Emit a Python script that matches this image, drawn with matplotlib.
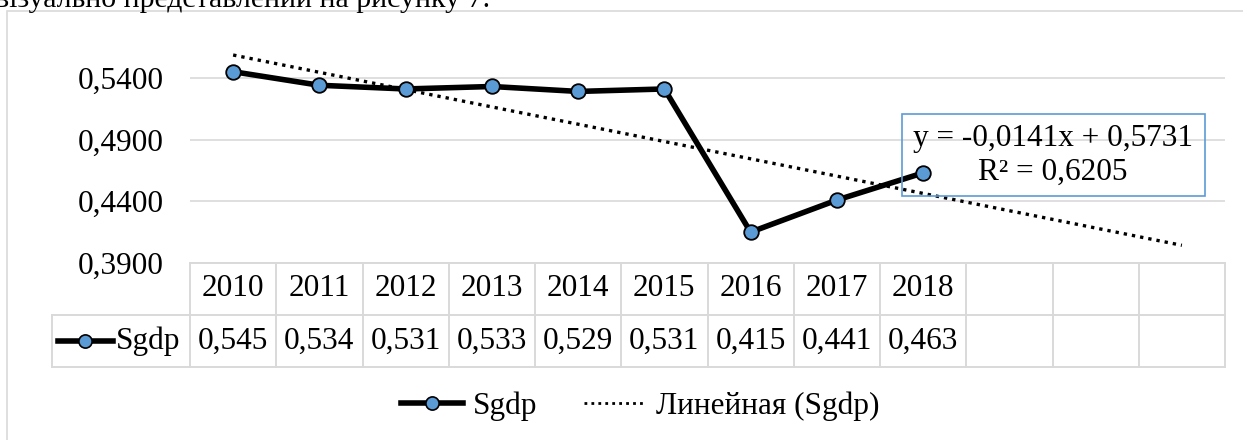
import numpy as np
import matplotlib
matplotlib.use("Agg")
import matplotlib.pyplot as plt
from matplotlib.lines import Line2D
from matplotlib.patches import Rectangle

plt.rcParams["font.family"] = ["Liberation Serif", "DejaVu Serif"]
plt.rcParams["font.size"] = 22.5

# data
years = ["2010", "2011", "2012", "2013", "2014", "2015", "2016", "2017", "2018"]
sgdp = [0.545, 0.534, 0.531, 0.533, 0.529, 0.531, 0.415, 0.441, 0.463]
n_slots = 12  # 9 years + 3 forecast slots for the trend line
y_ticks = [0.39, 0.44, 0.49, 0.54]
eq_text = "y = -0,0141x + 0,5731"
r2_text = "R² = 0,6205"
series_name = "Sgdp"
trend_name = "Линейная (Sgdp)"

W, H = 1243, 440
BLUE = "#5B9BD5"
GRID = "#D9D9D9"
LW = 4.0
MS = 10.5

fig = plt.figure(figsize=(W / 100, H / 100), dpi=100)

# clipped line of document text above the chart
fig.text(490 / W, 1 - 7 / H, "візуально представлений на рисунку 7.",
         ha="right", va="baseline", fontsize=21.5)

# chart area border (right / bottom fall outside the crop)
fig.patches.append(Rectangle((7 / W, -0.1), 1.2, (H - 11) / H + 0.1,
                             transform=fig.transFigure, fill=False,
                             edgecolor=GRID, lw=1.2))

x = np.arange(1, len(sgdp) + 1)

# plot area
ax = fig.add_axes([190 / W, (H - 263) / H, 1035 / W, (263 - 47) / H])
ax.set_xlim(0.5, n_slots + 0.5)
ax.set_ylim(0.39, 0.565)
ax.set_yticks(y_ticks)
ax.set_yticklabels([f"{v:.4f}".replace(".", ",") for v in y_ticks])
ax.tick_params(axis="y", length=0, pad=19)
ax.set_xticks([])
for s in ax.spines.values():
    s.set_visible(False)
ax.grid(axis="y", color=GRID, lw=1.2)
ax.set_axisbelow(True)

# linear trend, extended over all slots
slope, intercept = np.polyfit(x, sgdp, 1)
xt = np.arange(1, n_slots + 1)
ax.plot(xt, slope * xt + intercept, color="black", lw=2.4,
        linestyle=(0, (1, 1.5)), clip_on=False)

ax.plot(x, sgdp, color="black", lw=LW, marker="o", markersize=MS,
        markerfacecolor=BLUE, markeredgecolor="black", markeredgewidth=1.3,
        zorder=3, clip_on=False)

# equation box
fig.patches.append(Rectangle((902 / W, 1 - 196 / H), 303 / W, 82 / H,
                             transform=fig.transFigure, fill=False,
                             edgecolor=BLUE, lw=1.2))
fig.text(1053 / W, 1 - 138 / H, eq_text, ha="center", va="center")
fig.text(1053 / W, 1 - 172 / H, r2_text, ha="center", va="center")

# data table under the plot
tax = fig.add_axes([190 / W, (H - 367) / H, 1035 / W, (367 - 263) / H])
tax.set_xlim(0.5, n_slots + 0.5)
tax.set_ylim(0, 2)
tax.axis("off")
col_w = 1035 / n_slots
left = 0.5 - (190 - 52) / col_w
lkw = dict(color=GRID, lw=1.4, clip_on=False)
tax.plot([0.5, n_slots + 0.5], [2, 2], **lkw)
tax.plot([left, n_slots + 0.5], [1, 1], **lkw)
tax.plot([left, n_slots + 0.5], [0, 0], **lkw)
tax.plot([left, left], [0, 1], **lkw)
for k in range(n_slots + 1):
    tax.plot([0.5 + k, 0.5 + k], [0, 2], **lkw)
for i, (yr, v) in enumerate(zip(years, sgdp)):
    tax.text(i + 1, 1.5, yr, ha="center", va="center")
    tax.text(i + 1, 0.5, f"{v:.3f}".replace(".", ","), ha="center", va="center")

# legend key inside the series-name cell
kx0 = 0.5 + (58 - 190) / col_w
kx1 = 0.5 + (113 - 190) / col_w
tax.plot([kx0, kx1], [0.5, 0.5], color="black", lw=LW, clip_on=False)
tax.plot([(kx0 + kx1) / 2], [0.5], marker="o", markersize=MS - 1,
         markerfacecolor=BLUE, markeredgecolor="black",
         markeredgewidth=1.2, clip_on=False)
tax.text(0.5 + (116 - 190) / col_w, 0.5, series_name, ha="left", va="center")

# bottom legend
handles = [
    Line2D([], [], color="black", lw=LW, marker="o", markersize=MS - 1,
           markerfacecolor=BLUE, markeredgecolor="black", markeredgewidth=1.2),
    Line2D([], [], color="black", lw=2.0, linestyle=(0, (1, 1.5))),
]
fig.legend(handles, [series_name, trend_name], loc="center",
           bbox_to_anchor=(640 / W, 1 - 406 / H), ncol=2, frameon=False,
           handlelength=2.0, handletextpad=0.3, columnspacing=1.5,
           borderaxespad=0, borderpad=0)

fig.savefig("out.png", dpi=100)
